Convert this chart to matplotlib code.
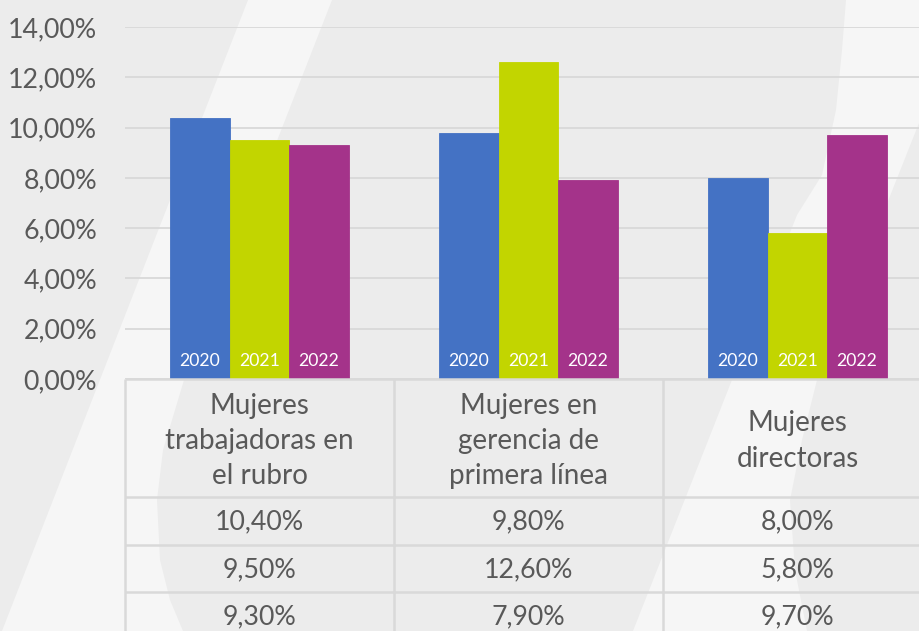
import numpy as np
import matplotlib
matplotlib.use("Agg")
import matplotlib.pyplot as plt
from matplotlib.patches import Polygon

plt.rcParams['font.family'] = ['Lato', 'DejaVu Sans']

categories = ["Mujeres\ntrabajadoras en\nel rubro", "Mujeres en\ngerencia de\nprimera línea", "Mujeres\ndirectoras"]
years = ["2020", "2021", "2022"]
v2020 = [0.104, 0.098, 0.080]
v2021 = [0.095, 0.126, 0.058]
v2022 = [0.093, 0.079, 0.097]
series = [v2020, v2021, v2022]
colors = ["#4472C4", "#C2D500", "#A4338A"]
yticks = [0.0, 0.02, 0.04, 0.06, 0.08, 0.10, 0.12, 0.14]

txt = "#595959"
grid = "#D9D9D9"
W, H = 919, 631

def pct(v):
    return f"{v*100:.2f}%".replace(".", ",")

fig = plt.figure(figsize=(W/100, H/100), dpi=100)
fig.patch.set_facecolor("#ECECEC")

# background decoration (light slanted shapes)
bg = fig.add_axes([0, 0, 1, 1])
bg.set_xlim(0, W); bg.set_ylim(H, 0); bg.axis("off")
left_shape = [(248, 0), (332, 0), (207, 320), (190, 360), (178, 400), (163, 450),
              (157, 500), (160, 560), (170, 600), (183, 631), (2, 631)]
right_shape = [(846, 0), (919, 0), (919, 123), (817, 380), (802, 440), (790, 500),
               (795, 570), (807, 631), (633, 631), (797, 215), (822, 175), (836, 110), (842, 50)]
for pts in (left_shape, right_shape):
    bg.add_patch(Polygon(pts, closed=True, facecolor="#F6F6F6", edgecolor="none"))

# bar chart
ax = fig.add_axes([125/W, (H-379)/H, 807/W, 352/H])
ax.patch.set_alpha(0)
x = np.arange(len(categories)) + 0.5
bw = 0.221
for i, (vals, c, yr) in enumerate(zip(series, colors, years)):
    xs = x + (i-1)*bw
    ax.bar(xs, vals, width=bw, color=c, edgecolor=c, linewidth=0.6, zorder=3)
    for xx in xs:
        ax.annotate(yr, (xx, 0), xytext=(0, 9.5), textcoords="offset points",
                    ha="center", va="baseline", color="white", fontsize=12.7, zorder=4)
ax.set_xlim(0, 3)
ax.set_ylim(0, 0.14)
ax.set_yticks(yticks)
ax.set_yticklabels([pct(v) for v in yticks], color=txt, fontsize=19.3)
ax.tick_params(axis="y", length=0, pad=20)
ax.set_xticks([])
ax.yaxis.grid(True, color=grid, linewidth=1.3)
ax.set_axisbelow(True)
for s in ax.spines.values():
    s.set_visible(False)

# data table under the chart
rows = [0, 118, 166, 213, 261]
tab = fig.add_axes([125/W, (H-379-rows[-1])/H, 807/W, rows[-1]/H])
tab.patch.set_alpha(0)
tab.set_xlim(0, 3); tab.set_ylim(rows[-1], 0); tab.axis("off")
for r in rows:
    tab.plot([0, 3], [r, r], color=grid, lw=1.8, clip_on=False, solid_capstyle="butt")
for c in range(4):
    tab.plot([c, c], [0, rows[-1]], color=grid, lw=1.8, clip_on=False, solid_capstyle="butt")
for j, cat in enumerate(categories):
    tab.text(j+0.5, (rows[0]+rows[1])/2+3, cat, ha="center", va="center",
             color=txt, fontsize=20, linespacing=1.45)
    for k, vals in enumerate(series):
        tab.text(j+0.5, (rows[k+1]+rows[k+2])/2+1, pct(vals[j]), ha="center", va="center",
                 color=txt, fontsize=19.3)

fig.savefig("out.png", dpi=100, facecolor=fig.get_facecolor())
